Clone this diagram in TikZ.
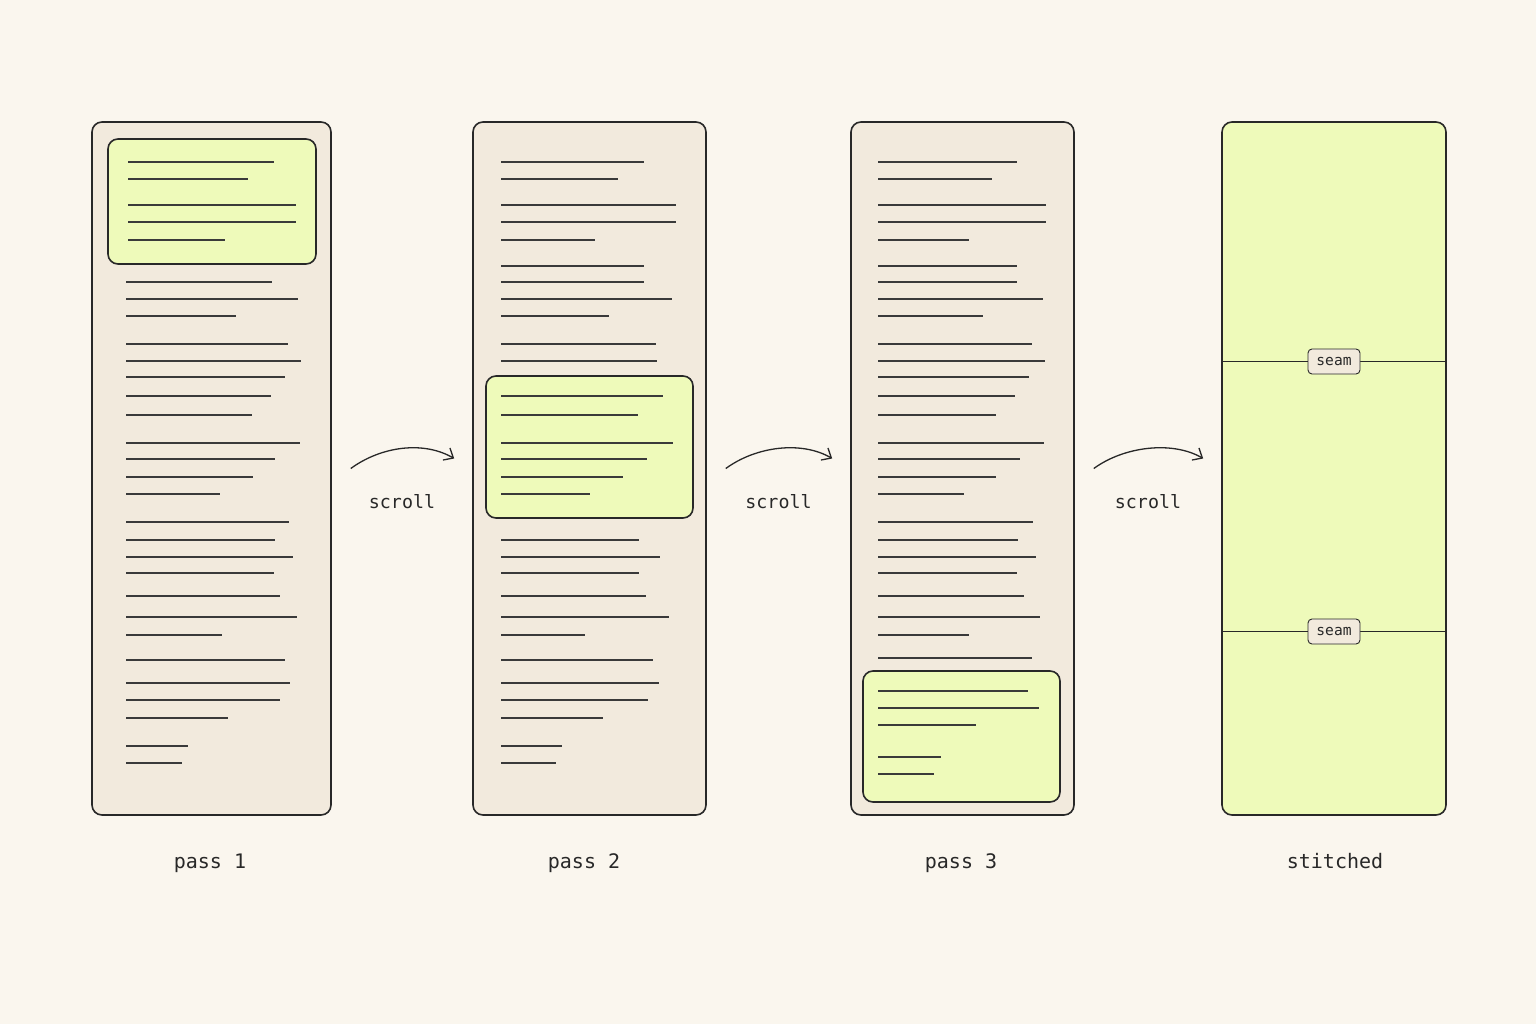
\documentclass[tikz,border=0pt]{standalone}
\usepackage{fontspec}
\setmonofont{DejaVu Sans Mono}
\usepackage{tikz}
\usetikzlibrary{calc,arrows.meta}

\definecolor{bgcream}{RGB}{250,246,238}
\definecolor{pagefill}{RGB}{242,234,221}
\definecolor{limefill}{RGB}{238,250,186}
\definecolor{inkdark}{RGB}{40,40,40}
\definecolor{inkline}{RGB}{58,58,58}

\begin{document}
\begin{tikzpicture}[x=1pt,y=-1pt,
    panel/.style={draw=inkdark,line width=1.6pt,fill=pagefill,rounded corners=10pt,
      minimum height=693pt,inner sep=0pt},
    shot/.style={draw=inkdark,line width=1.6pt,fill=limefill,rounded corners=10pt,inner sep=0pt},
    txtline/.style={inkline,line width=2pt},
    scrollarrow/.style={inkdark,line width=1.3pt,-{Straight Barb[length=8pt,width=14pt]}},
    lbl/.style={text=inkdark,anchor=base,font=\ttfamily\fontsize{20}{24}\selectfont},
    scrolllbl/.style={text=inkdark,font=\ttfamily\fontsize{18.3}{22}\selectfont},
    seamtag/.style={draw=inkdark,line width=0.9pt,fill=pagefill,rounded corners=4pt,
      minimum width=52pt,minimum height=25pt,inner sep=0pt,text=inkdark,
      font=\ttfamily\fontsize{14.6}{17}\selectfont}]
  \fill[bgcream] (0,0) rectangle (1536,1024);
  \useasboundingbox (0,0) rectangle (1536,1024);

  % pages
  \node[panel,minimum width=239pt] (p1) at (211.5,468.5) {};
  \node[panel,minimum width=233pt] (p2) at (589.5,468.5) {};
  \node[panel,minimum width=223pt] (p3) at (962.5,468.5) {};
  \node[panel,minimum width=224pt,fill=limefill] (p4) at (1334,468.5) {};

  % pass 1
  \foreach \y/\x in {282/272,299/298,316/236,344/288,361/301,377/285,396/271,415/252,
      443/300,459/275,477/253,494/220,522/289,540/275,557/293,573/274,596/280,
      617/297,635/222,660/285,683/290,700/280,718/228,746/188,763/182}
    \draw[txtline] (126,\y) -- (\x,\y);
  \node[shot,minimum width=208pt,minimum height=125pt] (h1) at (212,201.5) {};
  \foreach \y/\x in {162/274,179/248,205/296,222/296,240/225}
    \draw[txtline] (128,\y) -- (\x,\y);

  % pass 2
  \foreach \y/\x in {162/644,179/618,205/676,222/676,240/595,266/644,282/644,299/672,
      316/609,344/656,361/657,540/639,557/660,573/639,596/646,617/669,635/585,
      660/653,683/659,700/648,718/603,746/562,763/556}
    \draw[txtline] (501,\y) -- (\x,\y);
  \node[shot,minimum width=207pt,minimum height=142pt] (h2) at (589.5,447) {};
  \foreach \y/\x in {396/663,415/638,443/673,459/647,477/623,494/590}
    \draw[txtline] (501,\y) -- (\x,\y);

  % pass 3
  \foreach \y/\x in {162/1017,179/992,205/1046,222/1046,240/969,266/1017,282/1017,
      299/1043,316/983,344/1032,361/1045,377/1029,396/1015,415/996,443/1044,459/1020,
      477/996,494/964,522/1033,540/1018,557/1036,573/1017,596/1024,617/1040,
      635/969,658/1032}
    \draw[txtline] (878,\y) -- (\x,\y);
  \node[shot,minimum width=197pt,minimum height=131pt] (h3) at (961.5,736.5) {};
  \foreach \y/\x in {691/1028,708/1039,725/976,757/941,774/934}
    \draw[txtline] (878,\y) -- (\x,\y);

  % stitched seams
  \foreach \y [count=\i] in {361.5,631.5}{
    \draw[inkdark,line width=0.9pt] (p4.west |- 0,\y) -- (p4.east |- 0,\y);
    \node[seamtag] (seam\i) at (p4.center |- 0,\y) {seam};
  }

  % scroll arrows
  \foreach \a/\b [count=\i] in {p1/p2,p2/p3,p3/p4}{
    \draw[scrollarrow] ([xshift=19pt]\a.east) .. controls +(30,-22) and +(-31,-18)
      .. ([xshift=-18pt,yshift=10pt]\b.west);
    \node[scrolllbl] (s\i) at ($(\a.east)!.5!(\b.west)+(0,33)$) {scroll};
  }

  % captions
  \node[lbl] (c1) at (210,868) {pass 1};
  \node[lbl] (c2) at (584,868) {pass 2};
  \node[lbl] (c3) at (961,868) {pass 3};
  \node[lbl] (c4) at (1335,868) {stitched};
\end{tikzpicture}
\end{document}
